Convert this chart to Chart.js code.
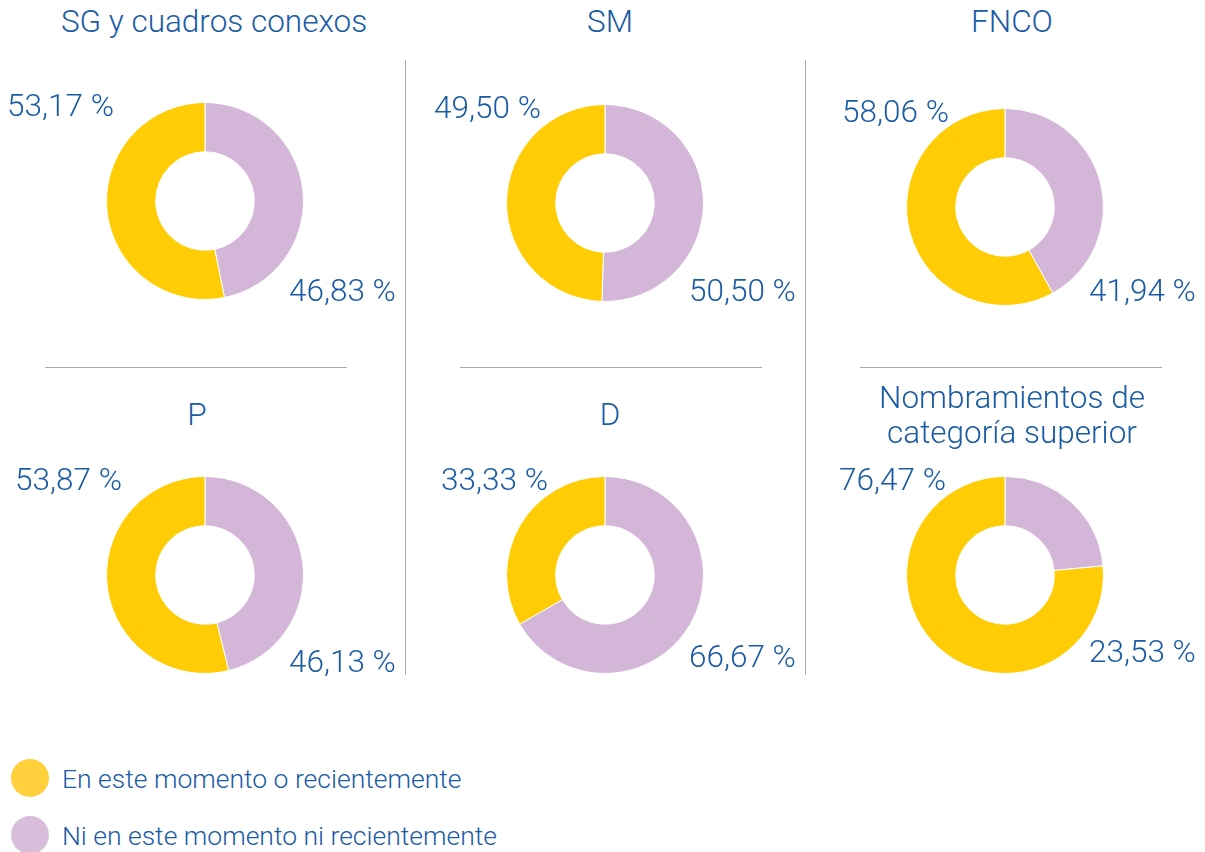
<!DOCTYPE html>
<html lang="es">
  <head>
    <meta charset="UTF-8" />
    <title>Doughnuts - SG, SM, FNCO, P, D, Nombramientos</title>
  </head>
  <style>
    * {
      margin: 0;
      padding: 0;
      font-family: Roboto, "Noto Sans", sans-serif;
      font-weight: 300;
    }
    body {
      width: 1205px;
      height: 852px;
      background: #fff;
      position: relative;
      overflow: hidden;
      color: #1a5ba6;
    }
    canvas {
      position: absolute;
    }
    .title {
      position: absolute;
      width: 420px;
      text-align: center;
      font-size: 31.5px;
      line-height: 35px;
    }
    .vline {
      position: absolute;
      width: 1px;
      top: 60px;
      height: 615px;
      background: #a9a9a9;
    }
    .hline {
      position: absolute;
      height: 1px;
      top: 367px;
      width: 302px;
      background: #a9a9a9;
    }
    .legend {
      position: absolute;
      left: 11px;
      top: 759px;
      font-size: 26.5px;
    }
    .legend div {
      display: flex;
      align-items: center;
      height: 38px;
      margin-bottom: 19px;
    }
    .legend span.dot {
      width: 38px;
      height: 38px;
      border-radius: 50%;
      margin-right: 13px;
    }
  </style>
  <body>
    <div class="vline" style="left: 405px"></div>
    <div class="vline" style="left: 805px"></div>
    <div class="hline" style="left: 45px"></div>
    <div class="hline" style="left: 460px"></div>
    <div class="hline" style="left: 860px"></div>
    <div class="legend" id="legend"></div>

    <script src="https://cdn.jsdelivr.net/npm/chart.js"></script>

    <script>
      // data
      const titles = [
        ["SG y cuadros conexos"],
        ["SM"],
        ["FNCO"],
        ["P"],
        ["D"],
        ["Nombramientos de", "categoría superior"]
      ];
      const seriesLabels = ["En este momento o recientemente", "Ni en este momento ni recientemente"];
      const enEsteMomento = [53.17, 49.5, 58.06, 53.87, 33.33, 76.47];
      const niEnEsteMomento = [46.83, 50.5, 41.94, 46.13, 66.67, 23.53];

      // layout
      const colors = ["#ffcc05", "#d4b6d8"];
      const legendColors = ["#ffd03c", "#d8bedb"];
      const centers = [
        [205, 201], [605, 203], [1005, 207],
        [205, 575], [605, 575], [1005, 575]
      ];
      const titleTops = [4, 4, 4, 397, 397, 380];
      const titleCx = [214, 610, 1012, 197, 610, 1012];
      const yellowShift = [91, 64, 56, 83, 57, 59];
      const pinkDy = [92, 90, 86, 89, 84, 79];

      const fmt = (v) => v.toFixed(2).replace(".", ",") + " %";

      // legend
      const legend = document.getElementById("legend");
      seriesLabels.forEach((lab, i) => {
        const row = document.createElement("div");
        row.innerHTML = `<span class="dot" style="background:${legendColors[i]}"></span><span>${lab}</span>`;
        legend.appendChild(row);
      });

      const donutLabels = {
        id: "donutLabels",
        afterDraw(chart, args, options) {
          const { ctx } = chart;
          const arc = chart.getDatasetMeta(0).data[0];
          const i = options.index;
          ctx.save();
          ctx.font = "300 31.5px Roboto, sans-serif";
          ctx.fillStyle = "#1a5ba6";
          ctx.textBaseline = "middle";
          ctx.textAlign = "right";
          ctx.fillText(fmt(enEsteMomento[i]), arc.x - yellowShift[i], arc.y - 93);
          ctx.textAlign = "left";
          ctx.fillText(fmt(niEnEsteMomento[i]), arc.x + 84, arc.y + pinkDy[i]);
          ctx.restore();
        }
      };

      titles.forEach((t, i) => {
        const [cx, cy] = centers[i];

        const title = document.createElement("div");
        title.className = "title";
        title.style.left = titleCx[i] - 210 + "px";
        title.style.top = titleTops[i] + "px";
        title.innerHTML = t.join("<br>");
        document.body.appendChild(title);

        const canvas = document.createElement("canvas");
        canvas.width = 400;
        canvas.height = 300;
        canvas.style.left = cx - 200 + "px";
        canvas.style.top = cy - 150 + "px";
        document.body.appendChild(canvas);

        new Chart(canvas, {
          type: "doughnut",
          data: {
            labels: [seriesLabels[1], seriesLabels[0]],
            datasets: [
              {
                data: [niEnEsteMomento[i], enEsteMomento[i]],
                backgroundColor: [colors[1], colors[0]],
                borderColor: "#ffffff",
                borderWidth: 1,
                cutout: "50%"
              }
            ]
          },
          options: {
            responsive: false,
            animation: false,
            layout: { padding: { top: 51, bottom: 51 } },
            plugins: {
              legend: { display: false },
              tooltip: { enabled: false },
              donutLabels: { index: i }
            }
          },
          plugins: [donutLabels]
        });
      });
    </script>
  </body>
</html>
